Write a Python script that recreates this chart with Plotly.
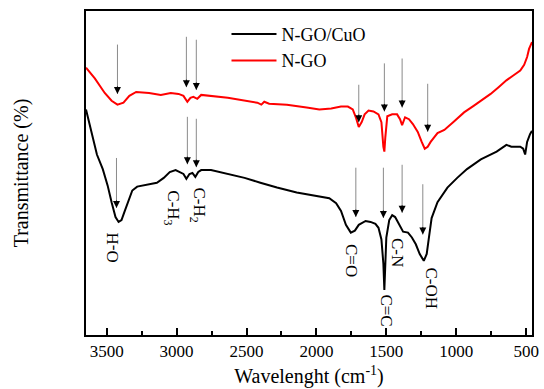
import plotly.graph_objects as go

# ---- data ----
ngo_wn = [3648, 3585, 3514, 3465, 3423, 3380, 3338, 3289, 3197, 3113, 3042, 2986, 2951, 2923, 2901,
          2880, 2852, 2824, 2634, 2423, 2394, 2373, 2338, 2211, 2070, 1979, 1894, 1824, 1775, 1740,
          1718, 1697, 1676, 1655, 1627, 1592, 1556, 1535, 1521, 1514, 1507, 1493, 1458, 1423, 1402,
          1387, 1366, 1338, 1310, 1275, 1247, 1225, 1204, 1183, 1134, 1085, 1014, 944, 873, 803,
          754, 697, 641, 592, 542, 514, 493, 479, 465, 458]
ngo_t = [82.5, 79.2, 74.7, 72.3, 71.1, 71.7, 73.8, 75.0, 74.7, 74.1, 74.7, 74.4, 73.8, 72.0, 73.2,
         73.5, 72.9, 74.1, 73.2, 71.7, 71.1, 72.0, 71.4, 71.1, 70.2, 69.6, 69.9, 70.5, 70.5, 69.6,
         67.2, 64.2, 65.7, 68.1, 69.3, 69.0, 68.1, 65.7, 58.1, 56.6, 61.1, 67.5, 68.1, 68.1, 66.6,
         64.8, 67.2, 66.6, 65.1, 62.7, 59.6, 57.5, 58.1, 59.6, 62.3, 63.3, 66.0, 68.7, 70.8, 72.9,
         74.4, 76.5, 78.6, 80.1, 81.6, 83.4, 85.8, 88.3, 90.1, 90.4]

cuo_wn = [3648, 3627, 3599, 3570, 3528, 3493, 3465, 3437, 3415, 3394, 3373, 3345, 3317, 3282, 3211,
          3141, 3092, 3049, 3007, 2972, 2951, 2930, 2908, 2887, 2866, 2845, 2824, 2754, 2634, 2514,
          2401, 2282, 2141, 1999, 1908, 1859, 1824, 1789, 1754, 1725, 1697, 1648, 1613, 1578, 1556,
          1535, 1521, 1514, 1507, 1500, 1479, 1458, 1437, 1416, 1394, 1380, 1345, 1317, 1289, 1261,
          1232, 1211, 1197, 1176, 1134, 1063, 993, 923, 824, 711, 641, 606, 542, 521, 507,
          493, 472, 458]
cuo_t = [69.6, 65.7, 61.1, 55.7, 51.2, 46.1, 41.0, 36.4, 34.9, 35.5, 38.0, 41.6, 44.6, 45.8, 46.4,
         47.0, 48.5, 50.3, 50.9, 50.0, 49.7, 48.2, 49.7, 50.0, 48.8, 50.3, 50.9, 50.9, 49.7, 48.5,
         47.0, 45.5, 44.0, 42.8, 42.2, 40.7, 38.3, 34.0, 31.6, 32.2, 34.0, 35.2, 34.9, 34.3, 33.1,
         29.5, 22.0, 13.9, 20.5, 30.1, 35.5, 37.0, 36.4, 34.9, 33.1, 31.9, 31.6, 30.1, 28.0, 25.0,
         22.9, 25.0, 29.5, 36.1, 41.0, 45.5, 48.5, 51.2, 54.2, 56.6, 58.7, 58.1, 58.1, 57.5, 55.7,
         59.6, 62.0, 63.0]

# arrows: wavenumber, top, tip
ngo_arrow_wn = [3423, 2930, 2859, 1697, 1514, 1387, 1204]
ngo_arrow_top = [90.1, 92.5, 91.6, 77.7, 84.3, 85.8, 78.0]
ngo_arrow_tip = [74.4, 76.5, 75.6, 65.7, 69.0, 70.2, 62.7]

cuo_arrow_wn = [3430, 2923, 2859, 1718, 1521, 1387, 1239]
cuo_arrow_top = [55.1, 67.8, 67.2, 52.1, 52.1, 53.0, 47.0]
cuo_arrow_tip = [39.2, 52.7, 51.8, 36.4, 36.1, 37.7, 31.0]

# band labels
band_text = ["O-H", "C-H<sub>3</sub>", "C-H<sub>2</sub>", "C=O", "C=C", "C-N", "C-OH"]
band_wn = [3458, 3035, 2850, 1754, 1500, 1416, 1176]
band_t = [26.8, 39.2, 40.1, 22.9, 7.5, 25.6, 14.5]
band_angle = [-90, 90, 90, 90, 90, 90, 90]

x_ticks = [3500, 3000, 2500, 2000, 1500, 1000, 500]

FONT = "Liberation Serif"

fig = go.Figure()
fig.add_trace(go.Scatter(x=cuo_wn, y=cuo_t, mode="lines", name="N-GO/CuO",
                         line=dict(color="black", width=2)))
fig.add_trace(go.Scatter(x=ngo_wn, y=ngo_t, mode="lines", name="N-GO",
                         line=dict(color="#ff0000", width=2)))

annotations = []
for wn_list, top_list, tip_list in [(ngo_arrow_wn, ngo_arrow_top, ngo_arrow_tip),
                                    (cuo_arrow_wn, cuo_arrow_top, cuo_arrow_tip)]:
    for w, top, tip in zip(wn_list, top_list, tip_list):
        # gray shaft
        annotations.append(dict(x=w, y=tip, ax=w, ay=top, xref="x", yref="y",
                                axref="x", ayref="y", text="", showarrow=True,
                                arrowhead=0, arrowwidth=1, arrowcolor="#8a8a8a",
                                standoff=0, startstandoff=0))
        # black head
        annotations.append(dict(x=w, y=tip, ax=0, ay=-9, xref="x", yref="y",
                                text="", showarrow=True, arrowhead=2, arrowsize=1.4,
                                arrowwidth=1, arrowcolor="black", standoff=0))

for t, w, y, ang in zip(band_text, band_wn, band_t, band_angle):
    annotations.append(dict(x=w, y=y, xref="x", yref="y", text=t, showarrow=False,
                            textangle=ang, font=dict(family=FONT, size=17, color="black")))

fig.update_layout(
    width=544, height=389,
    margin=dict(l=86, r=5, t=11, b=46),
    paper_bgcolor="white", plot_bgcolor="white",
    showlegend=True,
    legend=dict(x=0.315, y=0.985, xanchor="left", yanchor="top",
                font=dict(family=FONT, size=18, color="black"),
                bgcolor="rgba(0,0,0,0)", itemwidth=45, tracegroupgap=0),
    annotations=annotations,
    font=dict(family=FONT, color="black"),
)
fig.update_xaxes(range=[3648, 458], tickvals=x_ticks, ticks="inside", ticklen=7,
                 tickwidth=1.5, tickcolor="black",
                 minor=dict(dtick=250, tick0=250, ticks="inside", ticklen=4, tickwidth=1.5,
                            tickcolor="black"),
                 showline=True, linewidth=2, linecolor="black", mirror=True,
                 showgrid=False, zeroline=False,
                 tickfont=dict(family=FONT, size=17, color="black"),
                 title=dict(text="Wavelenght (cm<sup>-1</sup>)",
                            font=dict(family=FONT, size=20, color="black"), standoff=9))
fig.update_yaxes(range=[0, 100], showticklabels=False, ticks="",
                 showline=True, linewidth=2, linecolor="black", mirror=True,
                 showgrid=False, zeroline=False,
                 title=dict(text="Transmittance (%)",
                            font=dict(family=FONT, size=20, color="black"), standoff=50))

fig.write_html("out.html")
